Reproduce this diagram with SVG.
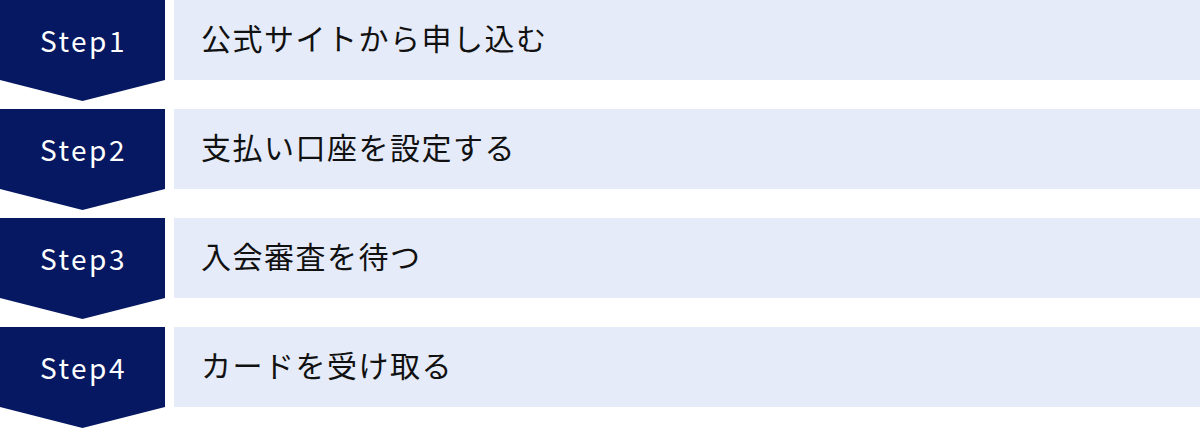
<svg xmlns="http://www.w3.org/2000/svg" width="1200" height="429" viewBox="0 0 1200 429">
<defs>
<style>
.chev{fill:#061862;}
.box{fill:#E5EBF8;}
.step{font-family:"Noto Sans CJK JP","Noto Sans",sans-serif;font-size:28px;fill:#FFFFFF;letter-spacing:2.5px;text-anchor:middle;}
.lbl{font-family:"Noto Sans CJK JP",sans-serif;font-size:30px;fill:#111111;letter-spacing:1.5px;}
</style>
</defs>
<rect width="1200" height="429" fill="#FFFFFF"/>
<g id="step1">
<path class="chev" d="M0 0H165V80L82.5 101L0 80Z"/>
<rect class="box" x="174" y="0" width="1026" height="80"/>
<text class="step" x="83.5" y="52">Step1</text>
<text class="lbl" x="201" y="50">公式サイトから申し込む</text>
</g>
<g id="step2">
<path class="chev" d="M0 109H165V189L82.5 210L0 189Z"/>
<rect class="box" x="174" y="109" width="1026" height="80"/>
<text class="step" x="83.5" y="161">Step2</text>
<text class="lbl" x="201" y="159">支払い口座を設定する</text>
</g>
<g id="step3">
<path class="chev" d="M0 218H165V298L82.5 319L0 298Z"/>
<rect class="box" x="174" y="218" width="1026" height="80"/>
<text class="step" x="83.5" y="270">Step3</text>
<text class="lbl" x="201" y="268">入会審査を待つ</text>
</g>
<g id="step4">
<path class="chev" d="M0 327H165V407L82.5 428L0 407Z"/>
<rect class="box" x="174" y="327" width="1026" height="80"/>
<text class="step" x="83.5" y="379">Step4</text>
<text class="lbl" x="201" y="377">カードを受け取る</text>
</g>
<g id="connectors"></g>
</svg>
